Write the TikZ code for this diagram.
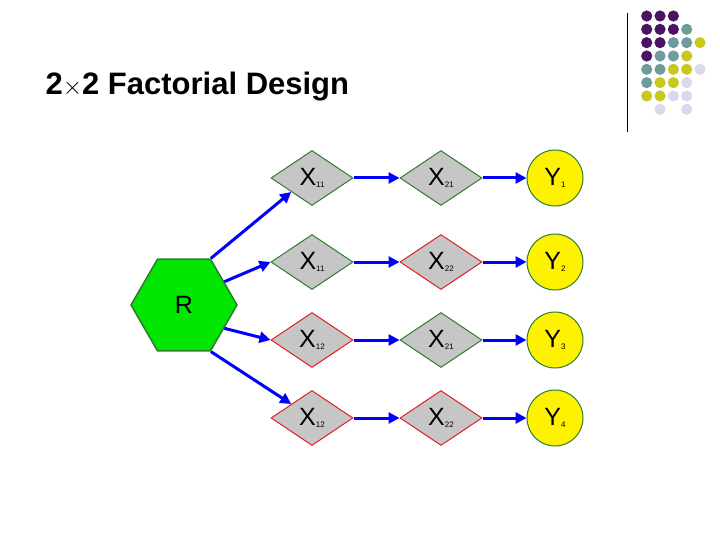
\documentclass[tikz,border=0pt]{standalone}
\usepackage{fontspec}
\setmainfont{Liberation Sans}
\usetikzlibrary{arrows.meta, positioning, shapes.geometric}
\definecolor{P}{HTML}{4A1462}
\definecolor{T}{HTML}{6E9B9B}
\definecolor{Y}{HTML}{C9C81F}
\definecolor{L}{HTML}{D9D9EC}
\definecolor{N}{HTML}{FFFFFF}
\definecolor{CGreen}{HTML}{00E600}
\definecolor{CEdgeG}{HTML}{2E7D2E}
\definecolor{CEdgeR}{HTML}{E02020}
\tikzset{
    factor/.style={diamond, aspect=1.5, fill=gray!45, draw=CEdgeG, line width=1pt,
        minimum width=82pt, minimum height=55pt, inner sep=0pt, font=\fontsize{25}{25}\selectfont},
    redfactor/.style={factor, draw=CEdgeR},
    outcome/.style={circle, fill=yellow, draw=CEdgeG, line width=1pt, minimum size=56pt,
        inner sep=0pt, font=\fontsize{25}{25}\selectfont},
    flow/.style={-{Triangle[length=11pt,width=11pt]}, blue, line width=3pt},
}
\newcommand{\sub}[1]{\raisebox{-2pt}{\fontsize{8}{8}\selectfont #1}}
\begin{document}
\begin{tikzpicture}[x=1pt,y=-1pt]
    \useasboundingbox (0,0) rectangle (720,540);
    % title and corner dots
    \node[anchor=west, font=\bfseries\fontsize{31}{31}\selectfont] (title) at (42,87) {2{\fontsize{24}{24}\selectfont$\times$}2 Factorial Design};
    \draw[line width=0.8pt] (627,13) -- (627,132);
    \foreach \row/\cols in {0/{P,P,P}, 1/{P,P,P,T}, 2/{P,P,T,T,Y}, 3/{P,T,T,Y},
        4/{T,T,Y,Y,L}, 5/{T,Y,Y,L}, 6/{Y,Y,L,L}, 7/{N,L,N,L}}{
        \foreach \c [count=\i from 0] in \cols
            \fill[\c] (646.7+13.33*\i, 16+13.33*\row) circle (5.6);
    }

    % start
    \node[regular polygon, regular polygon sides=6, fill=CGreen, draw=CEdgeG, line width=1.5pt,
        minimum width=106pt, inner sep=0pt, font=\fontsize{25}{25}\selectfont] (r) at (184,305) {R};

    % first factor
    \node[factor] (a1) at (312,178) {X\sub{11}};
    \node[factor] (a2) at (312,262) {X\sub{11}};
    \node[redfactor] (a3) at (312,340) {X\sub{12}};
    \node[redfactor] (a4) at (312,418) {X\sub{12}};

    % second factor
    \node[factor] (b1) at (441,178) {X\sub{21}};
    \node[redfactor] (b2) at (441,262) {X\sub{22}};
    \node[factor] (b3) at (441,340) {X\sub{21}};
    \node[redfactor] (b4) at (441,418) {X\sub{22}};

    % outcomes
    \foreach \k in {1,...,4}
        \path (b\k) ++(114,0) node[outcome] (y\k) {Y\sub{\k}};

    \draw[flow] (r.60) -- (a1.south west);
    \draw[flow] (r.30) -- (a2.west);
    \draw[flow] (r.-30) -- (a3.west);
    \draw[flow] (r.-60) -- (a4.north west);
    \foreach \k in {1,...,4} {
        \draw[flow] (a\k) -- (b\k);
        \draw[flow] (b\k) -- (y\k);
    }
\end{tikzpicture}
\end{document}
